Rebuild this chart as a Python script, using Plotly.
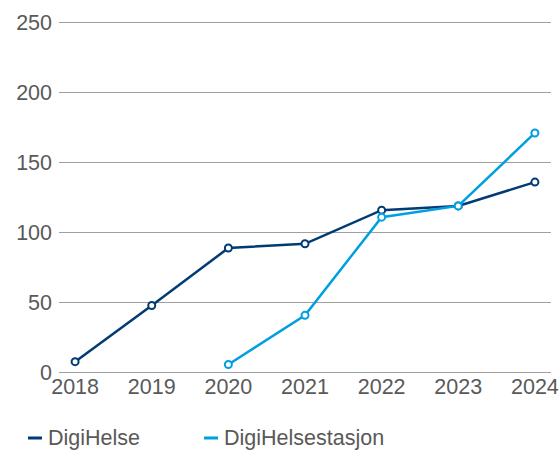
import plotly.graph_objects as go

years = [2018, 2019, 2020, 2021, 2022, 2023, 2024]
digihelse = [8, 48, 89, 92, 116, 119, 136]
stasjon_years = [2020, 2021, 2022, 2023, 2024]
digihelsestasjon = [6, 41, 111, 119, 171]
y_ticks = [0, 50, 100, 150, 200, 250]
series_names = ["DigiHelse", "DigiHelsestasjon"]

NAVY = "#003B73"
LIGHT = "#009FE0"
FONT = "Liberation Sans, Arial, sans-serif"
GRAY = "#595959"
FS = 21.5

W, H = 560, 451
L, R, T, B = 59, 9, 20, 76
PW, PH = W - L - R, H - T - B


def px(x):
    return (x - L) / PW


def py(y):
    return (H - B - y) / PH


fig = go.Figure()
for name, xs, ys, col in [(series_names[0], years, digihelse, NAVY),
                          (series_names[1], stasjon_years, digihelsestasjon, LIGHT)]:
    fig.add_trace(go.Scatter(
        x=xs, y=ys, mode="lines+markers", name=name, showlegend=False,
        line=dict(color=col, width=2.5),
        marker=dict(symbol="circle", size=7, color="white",
                    line=dict(color=col, width=2)),
    ))

# manual legend
for name, col, x0 in [(series_names[0], NAVY, 28), (series_names[1], LIGHT, 204)]:
    fig.add_shape(type="line", xref="paper", yref="paper",
                  x0=px(x0), x1=px(x0 + 14), y0=py(438), y1=py(438),
                  line=dict(color=col, width=3))
    fig.add_annotation(xref="paper", yref="paper", x=px(x0 + 18), y=py(438),
                       text=name, showarrow=False, xanchor="left",
                       yanchor="middle", font=dict(size=FS, color=GRAY))

fig.update_layout(
    width=W, height=H,
    margin=dict(l=L, r=R, t=T, b=B, autoexpand=False),
    paper_bgcolor="white", plot_bgcolor="white",
    font=dict(family=FONT, size=FS, color=GRAY),
    showlegend=False,
    xaxis=dict(range=[2017.79, 2024.21], tickvals=years,
               ticktext=[str(y) for y in years],
               showgrid=False, zeroline=False, showline=False,
               ticks="", ticklabelstandoff=-4, automargin=False,
               tickfont=dict(size=FS, color=GRAY)),
    yaxis=dict(range=[-1.5, 251.5], tickvals=y_ticks,
               showgrid=True, gridcolor="#A0A0A0", gridwidth=1.2,
               zeroline=False, showline=False, ticks="",
               ticklabelstandoff=6, automargin=False,
               tickfont=dict(size=FS, color=GRAY)),
)

fig.write_html("out.html", config={"displayModeBar": False},
               post_script="document.body.style.margin='0';document.body.style.padding='0';")
